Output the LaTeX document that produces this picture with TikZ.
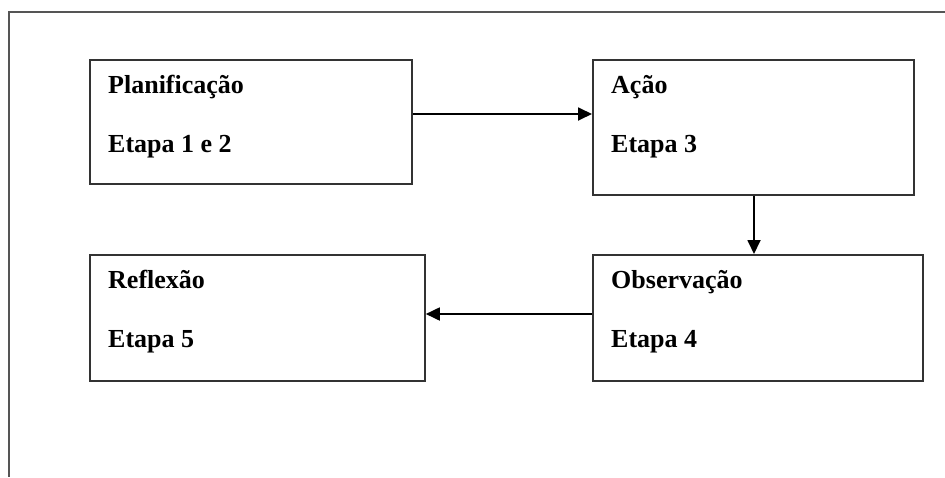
\documentclass[tikz,border=0pt]{standalone}
\usepackage{fontspec}
\setmainfont{Liberation Serif}
\usetikzlibrary{arrows.meta}
\definecolor{framegray}{HTML}{555555}
\definecolor{boxline}{HTML}{333333}
\begin{document}
\begin{tikzpicture}[x=1pt,y=-1pt,
  stagebox/.style={draw=boxline, line width=1.8pt, fill=white},
  stagetext/.style={anchor=base west, inner sep=0pt, font=\fontsize{26}{30}\selectfont\bfseries},
  flow/.style={draw=black, line width=1.8pt, -{Triangle[length=14pt,width=13pt]}}]
  \useasboundingbox (0,0) rectangle (945,477);
  \fill[white] (0,0) rectangle (945,477);
  % open outer frame
  \draw[framegray, line width=2pt] (945,12) -- (9,12) -- (9,477);

  % stage boxes
  \node[stagebox, minimum width=322pt, minimum height=124pt, anchor=north west] (plan) at (89,59) {};
  \node[stagebox, minimum width=321pt, minimum height=135pt, anchor=north west] (acao) at (592,59) {};
  \node[stagebox, minimum width=330pt, minimum height=126pt, anchor=north west] (obs) at (592,254) {};
  \node[stagebox, minimum width=335pt, minimum height=126pt, anchor=north west] (refl) at (89,254) {};

  % labels
  \node[stagetext] (plan1) at (108,93) {Planificação};
  \node[stagetext] (plan2) at (108,152) {Etapa 1 e 2};
  \node[stagetext] (acao1) at (611,93) {Ação};
  \node[stagetext] (acao2) at (611,152) {Etapa 3};
  \node[stagetext] (obs1) at (611,288) {Observação};
  \node[stagetext] (obs2) at (611,347) {Etapa 4};
  \node[stagetext] (refl1) at (108,288) {Reflexão};
  \node[stagetext] (refl2) at (108,347) {Etapa 5};

  % cycle connectors
  \draw[flow] (plan.east |- 0,114) -- (acao.west |- 0,114);
  \draw[flow] (754,0 |- acao.south) -- (754,0 |- obs.north);
  \draw[flow] (obs.west |- 0,314) -- (refl.east |- 0,314);
\end{tikzpicture}
\end{document}
